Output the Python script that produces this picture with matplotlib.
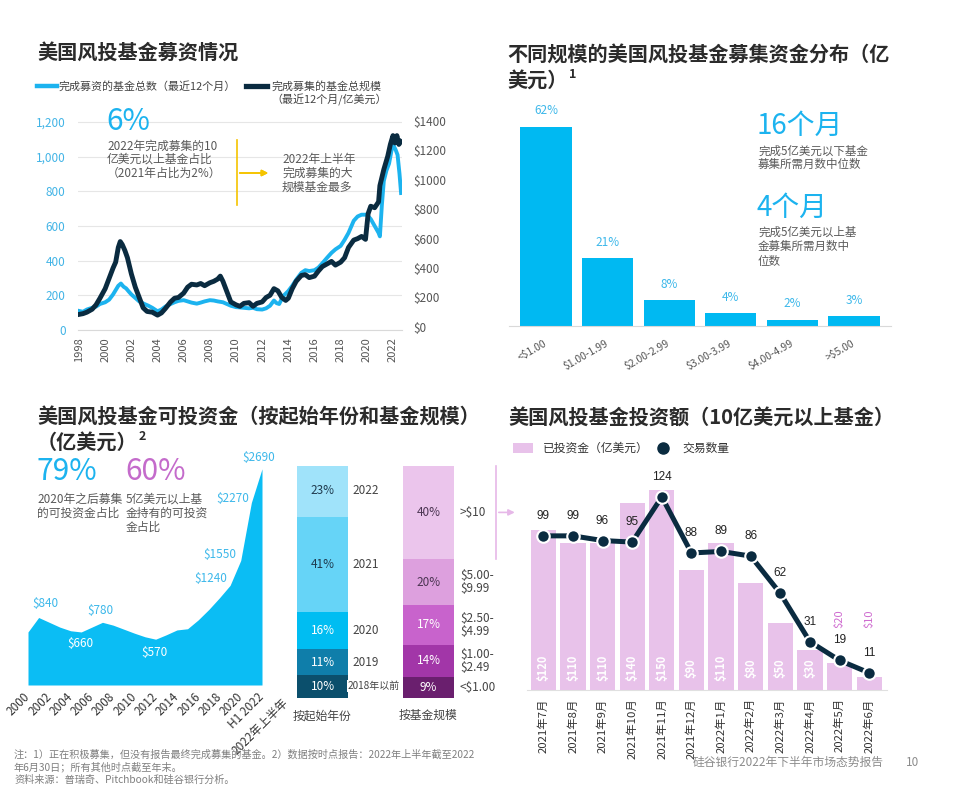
import matplotlib
matplotlib.use('Agg')
import matplotlib.pyplot as plt
import numpy as np
from matplotlib.lines import Line2D
from matplotlib.patches import Rectangle

plt.rcParams['font.family'] = ['Noto Sans CJK SC', 'DejaVu Sans']
plt.rcParams['text.parse_math'] = False
plt.rcParams['axes.unicode_minus'] = False

# ---------------- data ----------------
# Panel 1: trailing-12-month fundraising
count_years = [1998.0, 1998.3, 1998.6, 1999.0, 1999.3, 1999.6, 2000.0, 2000.3, 2000.6, 2000.8, 2001.0, 2001.2,
               2001.4, 2001.6, 2001.8, 2002.0, 2002.3, 2002.6, 2003.0, 2003.3, 2003.6, 2004.0, 2004.3, 2004.6,
               2005.0, 2005.3, 2005.6, 2006.0, 2006.3, 2006.6, 2007.0, 2007.3, 2007.6, 2008.0, 2008.3, 2008.6,
               2009.0, 2009.3, 2009.6, 2010.0, 2010.3, 2010.6, 2011.0, 2011.3, 2011.6, 2012.0, 2012.3, 2012.6,
               2012.9, 2013.1, 2013.3, 2013.6, 2014.0, 2014.3, 2014.6, 2015.0, 2015.3, 2015.6, 2016.0, 2016.3,
               2016.6, 2017.0, 2017.3, 2017.6, 2018.0, 2018.3, 2018.6, 2019.0, 2019.3, 2019.6, 2020.0, 2020.3,
               2020.6, 2020.9, 2021.0, 2021.15, 2021.3, 2021.5, 2021.7, 2021.9, 2022.0, 2022.2, 2022.35, 2022.5,
               2022.62]
count_vals = [110, 105, 118, 128, 135, 150, 160, 175, 205, 230, 255, 268,
              250, 240, 222, 205, 185, 165, 150, 140, 128, 108, 118, 135,
              150, 160, 168, 172, 165, 158, 152, 158, 165, 172, 170, 165,
              160, 150, 140, 132, 130, 128, 125, 128, 120, 118, 125, 140,
              170, 155, 150, 195, 225, 255, 290, 330, 345, 340, 345, 360,
              385, 420, 445, 465, 485, 520, 560, 630, 655, 665, 665, 640,
              600, 560, 540, 720, 860, 920, 960, 1040, 1070, 1040, 1010, 900,
              790]
size_years = [1998.0, 1998.3, 1998.6, 1999.0, 1999.3, 1999.6, 2000.0, 2000.3, 2000.6, 2000.8, 2001.0, 2001.15,
              2001.3, 2001.5, 2001.7, 2002.0, 2002.3, 2002.6, 2002.9, 2003.2, 2003.6, 2004.0, 2004.3, 2004.6,
              2005.0, 2005.3, 2005.6, 2006.0, 2006.3, 2006.6, 2007.0, 2007.3, 2007.6, 2008.0, 2008.3, 2008.6,
              2008.8, 2009.0, 2009.3, 2009.6, 2010.0, 2010.3, 2010.6, 2011.0, 2011.3, 2011.6, 2012.0, 2012.3,
              2012.6, 2012.9, 2013.2, 2013.5, 2013.8, 2014.0, 2014.3, 2014.6, 2015.0, 2015.3, 2015.6, 2016.0,
              2016.3, 2016.6, 2017.0, 2017.3, 2017.6, 2018.0, 2018.3, 2018.6, 2019.0, 2019.3, 2019.6, 2019.9,
              2020.1, 2020.3, 2020.6, 2020.9, 2021.0, 2021.3, 2021.6, 2021.8, 2022.0, 2022.15, 2022.3, 2022.45,
              2022.6]
size_vals = [85, 90, 100, 120, 150, 195, 260, 330, 400, 440, 540, 580,
             560, 520, 470, 360, 270, 200, 130, 105, 100, 80, 95, 125,
             170, 195, 200, 230, 270, 290, 285, 295, 280, 300, 310, 325,
             345, 310, 240, 170, 150, 140, 160, 165, 140, 160, 170, 200,
             215, 260, 245, 200, 180, 195, 260, 310, 350, 355, 335, 345,
             380, 410, 430, 445, 420, 440, 470, 540, 590, 600, 615, 595,
             770, 820, 810, 850, 960, 1070, 1160, 1240, 1300, 1250, 1300, 1240,
             1260]
count_ticks = [0, 200, 400, 600, 800, 1000, 1200]
size_ticks = [0, 200, 400, 600, 800, 1000, 1200, 1400]
year_ticks = list(range(1998, 2023, 2))

# Panel 2: distribution by fund size
dist_cats = ['<$1.00', '$1.00-1.99', '$2.00-2.99', '$3.00-3.99', '$4.00-4.99', '>$5.00']
dist_vals = [62, 21, 8, 4, 2, 3]

# Panel 3: dry powder
dry_years = list(range(2000, 2023))
dry_vals = [660, 840, 780, 720, 675, 660, 720, 780, 745, 695, 645, 600, 570,
            625, 685, 700, 810, 940, 1085, 1240, 1550, 2270, 2690]
dry_ticks = list(range(2000, 2021, 2)) + [2022]
dry_tick_labels = [str(y) for y in range(2000, 2021, 2)] + ['H1 2022']
dry_label_years = [2001, 2005, 2007, 2012, 2019, 2020, 2021, 2022]
start_labels = ['2018年以前', '2019', '2020', '2021', '2022']
start_vals = [10, 11, 16, 41, 23]
fsize_labels = [['<$1.00'], ['$1.00-', '$2.49'], ['$2.50-', '$4.99'], ['$5.00-', '$9.99'], ['>$10']]
fsize_vals = [9, 14, 17, 20, 40]

# Panel 4: $1B+ funds investment
months = ['2021年7月', '2021年8月', '2021年9月', '2021年10月', '2021年11月', '2021年12月',
          '2022年1月', '2022年2月', '2022年3月', '2022年4月', '2022年5月', '2022年6月']
invested = [120, 110, 110, 140, 150, 90, 110, 80, 50, 30, 20, 10]
deals = [99, 99, 96, 95, 124, 88, 89, 86, 62, 31, 19, 11]

# ---------------- layout helpers ----------------
W, H = 955, 791
fig = plt.figure(figsize=(W / 100, H / 100), dpi=100)
fig.patch.set_facecolor('white')
PT = 72 / 100  # points per pixel


def add_ax(x0, y0, x1, y1):
    return fig.add_axes([x0 / W, 1 - y1 / H, (x1 - x0) / W, (y1 - y0) / H])


def ftext(x, y, s, **kw):
    kw.setdefault('va', 'center')
    kw.setdefault('ha', 'left')
    return fig.text(x / W, 1 - y / H, s, **kw)


def flines(x, y0, step, lines, **kw):
    for i, s in enumerate(lines):
        ftext(x, y0 + i * step, s, **kw)


TITLE = dict(fontsize=14.5, fontweight='bold', color='#2B2B2B')
GRAY = '#595959'
LBLUE = '#1CB3EF'
TBLUE = '#3DB8EA'
NAVY = '#0A2B40'

# ================= Panel 1 =================
ftext(37, 52, '美国风投基金募资情况', **TITLE)
fig.add_artist(Line2D([37 / W, 57 / W], [1 - 86 / H, 1 - 86 / H], color=LBLUE, lw=3.2))
ftext(58, 86, '完成募资的基金总数（最近12个月）', fontsize=7.9, color='#444444')
fig.add_artist(Line2D([246 / W, 267 / W], [1 - 86 / H, 1 - 86 / H], color=NAVY, lw=3.8))
ftext(271, 86, '完成募集的基金总规模', fontsize=7.9, color='#444444')
ftext(271, 100, '（最近12个月/亿美元）', fontsize=7.9, color='#444444')

ax1 = add_ax(78, 115, 402, 330)
ax1.set_xlim(1997.92, 2022.69)
ax1.set_ylim(0, 1240)
for t in count_ticks:
    ax1.axhline(t, color='#E6E6E6', lw=0.8, zorder=0)
ax1.plot(count_years, count_vals, color=LBLUE, lw=2.8, zorder=2, solid_joinstyle='round')
ax1.set_yticks(count_ticks)
ax1.set_yticklabels([f'{v:,}' for v in count_ticks], color='#42B4E6', fontsize=8.5)
ax1.set_xticks(year_ticks)
ax1.set_xticklabels([str(y) for y in year_ticks], rotation=90, fontsize=8, color='#555555')
ax1.tick_params(axis='y', length=0, pad=9)
ax1.tick_params(axis='x', length=0, pad=5)
for s in ['top', 'right', 'left']:
    ax1.spines[s].set_visible(False)
ax1.spines['bottom'].set_color('#D9D9D9')
ax1.patch.set_alpha(0)

ax1r = ax1.twinx()
ax1r.set_ylim(-21, 1440)
ax1r.plot(size_years, size_vals, color=NAVY, lw=3.5, zorder=3, solid_joinstyle='round')
ax1r.set_yticks(size_ticks)
ax1r.set_yticklabels([f'${v}' for v in size_ticks], color='#555555', fontsize=8.5)
ax1r.tick_params(axis='y', length=0, pad=8)
for s in ax1r.spines.values():
    s.set_visible(False)

ftext(106, 121, '6%', fontsize=21.5, color=LBLUE)
flines(107, 146, 13.5, ['2022年完成募集的10', '亿美元以上基金占比', '（2021年占比为2%）'],
       fontsize=8.5, color=GRAY)
fig.add_artist(Line2D([237 / W, 237 / W], [1 - 140 / H, 1 - 205 / H], color='#F5C400', lw=1.2))
fig.add_artist(plt.annotate('', xy=(271 / W, 1 - 173 / H), xytext=(237 / W, 1 - 173 / H),
                            xycoords='figure fraction', textcoords='figure fraction',
                            arrowprops=dict(arrowstyle='-|>', color='#F5C400', lw=1.2,
                                            mutation_scale=9)))
flines(282, 159, 14, ['2022年上半年', '完成募集的大', '规模基金最多'], fontsize=8.5, color=GRAY)

# ================= Panel 2 =================
ftext(507, 55, '不同规模的美国风投基金募集资金分布（亿', **TITLE)
ftext(507, 80, '美元）', **TITLE)
ftext(569, 75, '1', fontsize=9, fontweight='bold', color='#2B2B2B')

ax2 = add_ax(509, 101, 891, 326)
xs = np.arange(len(dist_vals))
ax2.bar(xs, dist_vals, width=0.83, color='#00B9F2')
ax2.set_xlim(-0.6, 5.6)
ax2.set_ylim(0, 70)
for i, v in enumerate(dist_vals):
    ax2.annotate(f'{v}%', (i, v), xytext=(0, 16 * PT), textcoords='offset points',
                 ha='center', va='center', fontsize=8.5, color=TBLUE)
ax2.set_yticks([])
ax2.set_xticks(xs)
ax2.set_xticklabels(dist_cats, rotation=30, ha='right', va='center', rotation_mode='anchor',
                    fontsize=7.5, color='#555555')
ax2.tick_params(axis='x', length=0, pad=12)
for s in ['top', 'right', 'left']:
    ax2.spines[s].set_visible(False)
ax2.spines['bottom'].set_color('#D9D9D9')
ax2.patch.set_alpha(0)

ftext(756, 126, '16个月', fontsize=20, color=LBLUE)
flines(758, 151, 13.5, ['完成5亿美元以下基金', '募集所需月数中位数'], fontsize=8.3, color=GRAY)
ftext(756, 208, '4个月', fontsize=20, color=LBLUE)
flines(758, 232, 14.5, ['完成5亿美元以上基', '金募集所需月数中', '位数'], fontsize=8.3, color=GRAY)

# ================= Panel 3 =================
ftext(37, 417, '美国风投基金可投资金（按起始年份和基金规模）', **TITLE)
ftext(37, 442, '（亿美元）', **TITLE)
ftext(139, 437, '2', fontsize=9, fontweight='bold', color='#2B2B2B')
ftext(36, 472, '79%', fontsize=21.5, color=LBLUE)
ftext(125, 472, '60%', fontsize=21.5, color='#C46BCB')
flines(37, 499, 14, ['2020年之后募集', '的可投资金占比'], fontsize=8.5, color=GRAY)
flines(126, 499, 14, ['5亿美元以上基', '金持有的可投资', '金占比'], fontsize=8.5, color=GRAY)

ax3 = add_ax(28, 460, 262, 685)
ax3.fill_between(dry_years, dry_vals, 0, color='#0BBDF4', lw=0)
ax3.set_xlim(2000, 2022)
ax3.set_ylim(0, 2800)
ax3.set_yticks([])
ax3.set_xticks(dry_ticks)
ax3.set_xticklabels(dry_tick_labels, rotation=45, ha='right', va='center', rotation_mode='anchor',
                    fontsize=8.5, color='#333333')
ax3.tick_params(axis='x', length=0, pad=7)
for s in ax3.spines.values():
    s.set_visible(False)
ax3.patch.set_alpha(0)
ax3.annotate('2022年上半年', (2022, 0), xytext=(24 * PT, -16 * PT), textcoords='offset points',
             rotation=45, ha='right', va='center', rotation_mode='anchor', fontsize=8.5,
             color='#333333', annotation_clip=False)
lab_off = {2001: (7, 14, TBLUE), 2005: (-1, -12, 'white'), 2007: (-2, 12, TBLUE),
           2012: (-1, -13, 'white'), 2019: (-19, 7, TBLUE), 2020: (-21, 6, TBLUE),
           2021: (-19, 4, TBLUE), 2022: (-3, 11, TBLUE)}
for yr in dry_label_years:
    v = dry_vals[dry_years.index(yr)]
    dx, dy, c = lab_off[yr]
    ax3.annotate(f'${v}', (yr, v), xytext=(dx * PT, dy * PT), textcoords='offset points',
                 ha='center', va='center', fontsize=8.5, color=c, annotation_clip=False)

# stacked bars
axs = add_ax(290, 466, 520, 698)
axs.set_xlim(-0.3066, 1.863)
axs.set_ylim(0, 100)
start_colors = ['#0B4F6C', '#0F7EAA', '#00BDF2', '#66D4F7', '#A0E3FA']
start_txt = ['white', 'white', 'white', '#1F3B4F', '#1F3B4F']
fsize_colors = ['#6A1F6E', '#A236A8', '#C863CC', '#DDA0DE', '#EBC5EC']
fsize_txt = ['white', 'white', 'white', '#4B3552', '#4B3552']
bw = 0.48
cum = 0
for v, lab, c, tc in zip(start_vals, start_labels, start_colors, start_txt):
    axs.bar(0, v, bottom=cum, width=bw, color=c, lw=0)
    axs.text(0, cum + v / 2, f'{v}%', ha='center', va='center', fontsize=8.5, color=tc)
    if lab == '2018年以前':
        axs.annotate(lab, (bw / 2, cum + v / 2), xytext=(0, 0), textcoords='offset points',
                     ha='left', va='center', fontsize=7.2, color='#444444',
                     bbox=dict(boxstyle='square,pad=0.1', fc='white', ec='none'))
    else:
        axs.annotate(lab, (bw / 2, cum + v / 2), xytext=(5 * PT, 0), textcoords='offset points',
                     ha='left', va='center', fontsize=8.5, color='#444444')
    cum += v
cum = 0
for v, labs, c, tc in zip(fsize_vals, fsize_labels, fsize_colors, fsize_txt):
    axs.bar(1, v, bottom=cum, width=bw, color=c, lw=0)
    axs.text(1, cum + v / 2, f'{v}%', ha='center', va='center', fontsize=8.5, color=tc)
    n = len(labs)
    for j, s in enumerate(labs):
        dy = (n - 1) / 2 * 13.3 - j * 13.3
        axs.annotate(s, (1 + bw / 2, cum + v / 2), xytext=(6 * PT, dy * PT), textcoords='offset points',
                     ha='left', va='center', fontsize=8.5, color='#444444')
    cum += v
top_lo = sum(fsize_vals[:-1])
top_hi = sum(fsize_vals)
xb = 1.637
axs.plot([xb, xb], [top_lo, top_hi], color='#E6B8E8', lw=1.2, clip_on=False)
axs.annotate('', xy=(1.84, (top_lo + top_hi) / 2), xytext=(xb, (top_lo + top_hi) / 2),
             arrowprops=dict(arrowstyle='-|>', color='#E6B8E8', lw=1.2, mutation_scale=9),
             annotation_clip=False)
axs.set_yticks([])
axs.set_xticks([0, 1])
axs.set_xticklabels(['按起始年份', '按基金规模'], fontsize=8.5, color='#444444')
axs.tick_params(axis='x', length=0, pad=8)
for s in axs.spines.values():
    s.set_visible(False)
axs.patch.set_alpha(0)

# ================= Panel 4 =================
ftext(508, 417, '美国风投基金投资额（10亿美元以上基金）', **TITLE)
fig.add_artist(Rectangle((513 / W, 1 - 453 / H), 20 / W, 10 / H, transform=fig.transFigure,
                         color='#E8C2EA', lw=0))
ftext(543, 448, '已投资金（亿美元）', fontsize=8.5, color='#333333')
fig.add_artist(Line2D([663 / W], [1 - 448 / H], marker='o', ms=8, color=NAVY, lw=0))
ftext(682, 448, '交易数量', fontsize=8.5, color='#333333')

ax4 = add_ax(527, 470, 887, 690)
x4 = np.arange(len(months))
ax4.bar(x4, invested, width=0.85, color='#E8C2EA', lw=0)
ax4.set_xlim(-0.55, 11.6)
ax4.set_ylim(0, 165)
for i, v in enumerate(invested):
    if v >= 30:
        ax4.annotate(f'${v}', (i, 0), xytext=(0, 22 * PT), textcoords='offset points', rotation=90,
                     ha='center', va='center', fontsize=8, color='white', fontweight='bold')
    else:
        ax4.annotate(f'${v}', (i, 0), xytext=(0, 71 * PT), textcoords='offset points', rotation=90,
                     ha='center', va='center', fontsize=8, color='#CF6BD0')
ax4.set_yticks([])
ax4.set_xticks(x4)
ax4.set_xticklabels(months, rotation=90, fontsize=8.2, color='#333333')
ax4.tick_params(axis='x', length=0, pad=6)
for s in ['top', 'right', 'left']:
    ax4.spines[s].set_visible(False)
ax4.spines['bottom'].set_color('#E0E0E0')
ax4.patch.set_alpha(0)

ax4b = ax4.twinx()
ax4b.set_ylim(0, 141.3)
ax4b.plot(x4, deals, color=NAVY, lw=3.6, marker='o', ms=9, mfc=NAVY, mec='white', mew=1.5, zorder=3)
for i, d in enumerate(deals):
    ax4b.annotate(str(d), (i, d), xytext=(0, 20 * PT), textcoords='offset points', ha='center',
                  va='center', fontsize=8.5, color='#222222', family=['Liberation Sans', 'DejaVu Sans'])
ax4b.set_yticks([])
for s in ax4b.spines.values():
    s.set_visible(False)

# ================= footnotes =================
FN = dict(fontsize=7.3, color='#7F7F7F')
ftext(14, 755, '注：1）正在积极募集，但没有报告最终完成募集的基金。2）数据按时点报告：2022年上半年截至2022', **FN)
ftext(14, 767, '年6月30日；所有其他时点截至年末。', **FN)
ftext(14, 780, '资料来源：普瑞奇、Pitchbook和硅谷银行分析。', **FN)
ftext(693, 762, '硅谷银行2022年下半年市场态势报告', fontsize=8.5, color='#8C8C8C')
ftext(906, 762, '10', fontsize=8.5, color='#8C8C8C')

fig.savefig('out.png', dpi=100, facecolor='white')
